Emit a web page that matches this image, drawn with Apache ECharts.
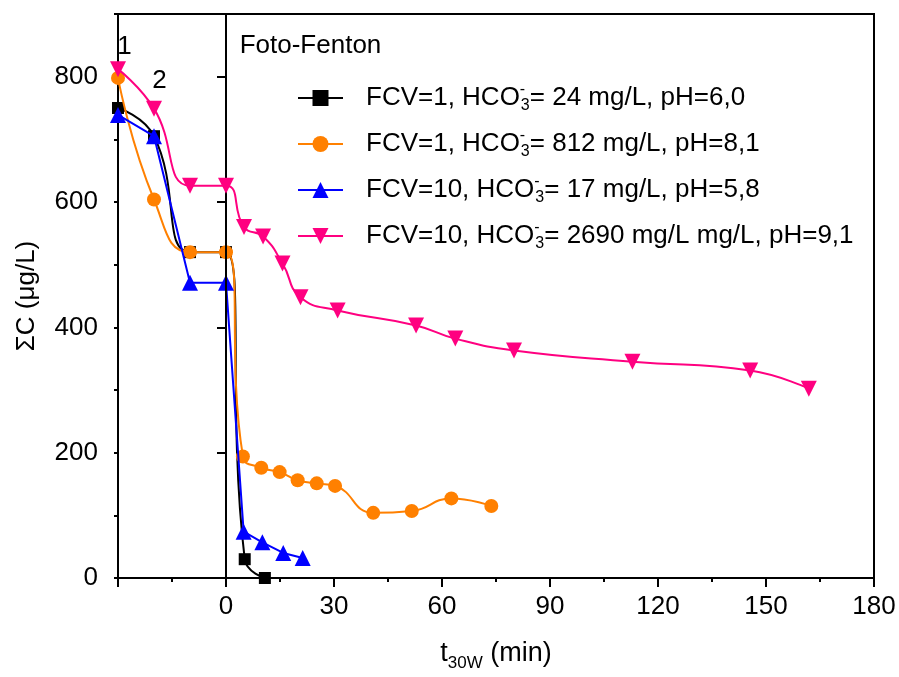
<!DOCTYPE html>
<html>
<head>
<meta charset="utf-8">
<script src="https://cdn.jsdelivr.net/npm/echarts@6/dist/echarts.min.js"></script>
<style>
  html, body { margin: 0; padding: 0; background: #fff; }
  #chart { width: 899px; height: 677px; }
</style>
</head>
<body>
<div id="chart"></div>
<script>
var FONT = '"Liberation Sans", Arial, sans-serif'

// time t30W (min) and total concentration (ug/L) for each run
var tBlack = [-30, -20, -10, 0, 5.2, 10.8]
var cBlack = [750, 705, 520, 520, 30, 0]

var tOrange = [-30, -20, -10, 0, 4.7, 9.8, 14.9, 19.9, 25.2, 30.3, 40.9, 51.6, 62.6, 73.7]
var cOrange = [798, 604, 520, 520, 194, 176, 169, 156, 151, 147, 104, 107, 127, 115]

var tBlue = [-30, -20, -10, 0, 4.9, 10.1, 15.9, 21.3]
var cBlue = [739, 705, 471, 471, 74, 57, 40, 32]

var tPink = [-30, -20, -10, 0, 5, 10.3, 15.7, 20.7, 31, 52.8, 63.7, 80, 112.9, 145.6, 161.9]
var cPink = [812, 749, 626, 626, 560, 545, 502, 448, 427, 403, 382, 363, 345, 331, 302]

var names = [
  'FCV=1, HCO3-= 24 mg/L, pH=6,0',
  'FCV=1, HCO3-= 812 mg/L, pH=8,1',
  'FCV=10, HCO3-= 17 mg/L, pH=5,8',
  'FCV=10, HCO3-= 2690 mg/L mg/L, pH=9,1'
]
var colors = ['#000000', '#ff8000', '#0000ff', '#ff0080']

var xTicks = [-30, 0, 30, 60, 90, 120, 150, 180]

// text notes placed in data coordinates
var noteText = ['1', '2', 'Foto-Fenton']
var noteAt = [[-28.2, 848], [-18.5, 794], [3.8, 849]]

function pairs(t, c) {
  return t.map(function (v, i) { return [v, c[i]] })
}

function lineSeries(i, t, c, symbol, size, smooth, extra) {
  var s = {
    name: names[i],
    type: 'line',
    data: pairs(t, c),
    smooth: smooth,
    symbol: symbol,
    symbolSize: size,
    showAllSymbol: true,
    color: colors[i],
    itemStyle: { color: colors[i] },
    lineStyle: { color: colors[i], width: 2 },
    z: 2 + i
  }
  for (var k in extra) s[k] = extra[k]
  return s
}

var chart = echarts.init(document.getElementById('chart'))

var axisBlack = { color: '#000', width: 2 }
var subRich = {
  a: { fontFamily: FONT, fontSize: 27, color: '#000', lineHeight: 36 },
  b: { fontFamily: FONT, fontSize: 17, color: '#000', lineHeight: 12, verticalAlign: 'bottom' }
}

chart.setOption({
  animation: false,
  backgroundColor: '#fff',
  grid: {
    left: 118, right: 25, top: 14, bottom: 99,
    show: true, borderColor: '#000', borderWidth: 2,
    containLabel: false, outerBoundsMode: 'none'
  },
  legend: {
    orient: 'vertical',
    left: 297,
    top: 82,
    padding: 0,
    itemGap: 14,
    itemWidth: 45,
    itemHeight: 20,
    data: names,
    formatter: function (n) { return n.replace('HCO3-', 'HCO{sup|-}{sub|3}') },
    textStyle: {
      fontFamily: FONT, fontSize: 26, color: '#000', lineHeight: 32,
      padding: [0, 0, 0, 18],
      rich: {
        sub: { fontFamily: FONT, fontSize: 16, color: '#000', lineHeight: 8, verticalAlign: 'bottom' },
        sup: { fontFamily: FONT, fontSize: 16, color: '#000', lineHeight: 28, verticalAlign: 'top', width: 1 }
      }
    }
  },
  xAxis: {
    type: 'value',
    min: -30,
    max: 180,
    interval: 30,
    axisLine: { show: true, onZero: false, lineStyle: axisBlack },
    axisTick: { show: true, inside: false, length: 9, lineStyle: axisBlack },
    minorTick: { show: true, splitNumber: 2, length: 4, lineStyle: axisBlack },
    splitLine: { show: false },
    minorSplitLine: { show: false },
    axisLabel: {
      fontFamily: FONT, fontSize: 26, color: '#000', margin: 16,
      formatter: function (v) { return v === xTicks[0] ? '' : String(v) }
    },
    name: '{a|t}{b|30W}{a| (min)}',
    nameLocation: 'middle',
    nameGap: 58,
    nameTextStyle: { rich: subRich }
  },
  yAxis: [{
    type: 'value',
    min: 0,
    max: 900,
    interval: 100,
    axisLine: { show: true, onZero: false, lineStyle: axisBlack },
    axisTick: { show: true, inside: false, length: 4, lineStyle: axisBlack },
    splitLine: { show: false },
    axisLabel: {
      fontFamily: FONT, fontSize: 26, color: '#000', margin: 20,
      formatter: function (v) { return (v % 200 === 0 && v < 900) ? String(v) : '' }
    },
    name: 'ΣC (μg/L)',
    nameLocation: 'middle',
    nameRotate: 90,
    nameGap: 78,
    nameTextStyle: { fontFamily: FONT, fontSize: 26, color: '#000' }
  }, {
    type: 'value',
    position: 'left',
    min: 0,
    max: 900,
    interval: 200,
    axisLine: { show: false },
    axisTick: { show: true, inside: false, length: 9, lineStyle: axisBlack },
    axisLabel: { show: false },
    splitLine: { show: false }
  }],
  series: [
    lineSeries(0, tBlack, cBlack, 'rect', 12, true, {
      markLine: {
        silent: true,
        symbol: ['none', 'none'],
        label: { show: false },
        lineStyle: { color: '#000', width: 2, type: 'solid' },
        data: [{ xAxis: 0 }]
      }
    }),
    lineSeries(1, tOrange, cOrange, 'circle', 14, true, {}),
    lineSeries(2, tBlue, cBlue, 'triangle', 16, false, {}),
    lineSeries(3, tPink, cPink, 'triangle', 16, true, { symbolRotate: 180 })
  ]
})

// notes go through the chart's own scales
chart.setOption({
  graphic: noteText.map(function (txt, i) {
    var p = chart.convertToPixel({ gridIndex: 0 }, noteAt[i])
    return {
      type: 'text',
      x: p[0],
      y: p[1],
      z: 20,
      style: {
        text: txt,
        fill: '#000',
        font: '26px ' + FONT,
        align: i < 2 ? 'center' : 'left',
        verticalAlign: 'middle'
      }
    }
  })
})
</script>
</body>
</html>
